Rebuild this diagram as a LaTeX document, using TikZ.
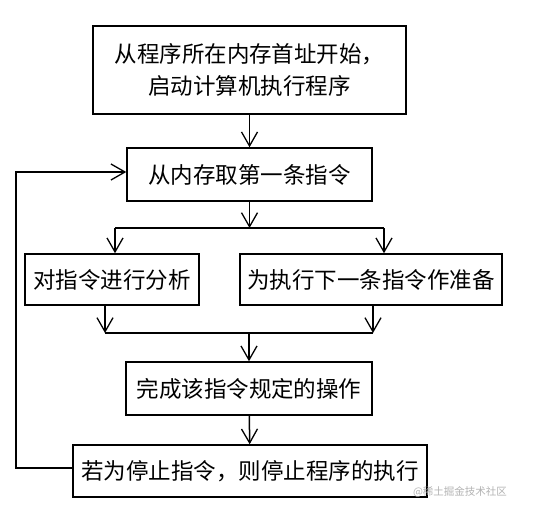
\documentclass[tikz,border=0pt]{standalone}
\usepackage{fontspec}
\newfontfamily\cjk{Noto Sans CJK SC}
\usetikzlibrary{arrows.meta,positioning}
\begin{document}
\begin{tikzpicture}[x=1pt,y=-1pt,
    blk/.style={rectangle,draw,line width=1.5pt,inner sep=0pt,align=center,
      font=\cjk\fontsize{22.5}{32}\selectfont},
    flow/.style={line width=1.5pt,-{Straight Barb[length=14pt,width=16pt,line width=1.3pt]}},
    bus/.style={line width=1.5pt}]
    \useasboundingbox (0,0) rectangle (555,511);
    \node[blk,minimum width=313pt,minimum height=88pt] (start) at (249.5,70) {从程序所在内存首址开始，\\启动计算机执行程序};
    \node[blk,minimum width=245pt,minimum height=53pt] (fetch) at (249.5,174.5) {从内存取第一条指令};
    \node[blk,minimum width=174pt,minimum height=51pt] (decode) at (112,279.5) {对指令进行分析};
    \node[blk,minimum width=262pt,minimum height=51pt] (nextpc) at (371,279.5) {为执行下一条指令作准备};
    \node[blk,minimum width=246pt,minimum height=53pt] (exec) at (249,388.5) {完成该指令规定的操作};
    \node[blk,minimum width=354pt,minimum height=52pt] (halt) at (250,471) {若为停止指令，则停止程序的执行};
    \node[font=\cjk\fontsize{10.5}{12}\selectfont,text=black!30] (mark) at (460,492) {@稀土掘金技术社区};

    \coordinate (split) at (249.5,228);
    \coordinate (splitL) at (115,228);
    \coordinate (splitR) at (384,228);
    \coordinate (merge) at (249,333);
    \coordinate (mergeL) at (105,333);
    \coordinate (mergeR) at (373,333);
    \coordinate (loop) at (16,300);

    \draw[flow] (start) -- (fetch) ;
    \draw[flow] (fetch.south) -- (split) ;
    \draw[bus] (splitL) -- (splitR) ;
    \draw[flow] (splitL) -- (splitL |- decode.north) ;
    \draw[flow] (splitR) -- (splitR |- nextpc.north) ;
    \draw[flow] (mergeL |- decode.south) -- (mergeL) ;
    \draw[flow] (mergeR |- nextpc.south) -- (mergeR) ;
    \draw[bus] (mergeL) -- (mergeR) ;
    \draw[flow] (merge) -- (exec) ;
    \draw[flow] (exec) -- (halt) ;
    \draw[flow] ([yshift=3pt]halt.west) -- ([yshift=3pt]halt.west -| loop) -- ([yshift=2.5pt]loop |- fetch.west) -- ([yshift=2.5pt]fetch.west) ;
\end{tikzpicture}
\end{document}
